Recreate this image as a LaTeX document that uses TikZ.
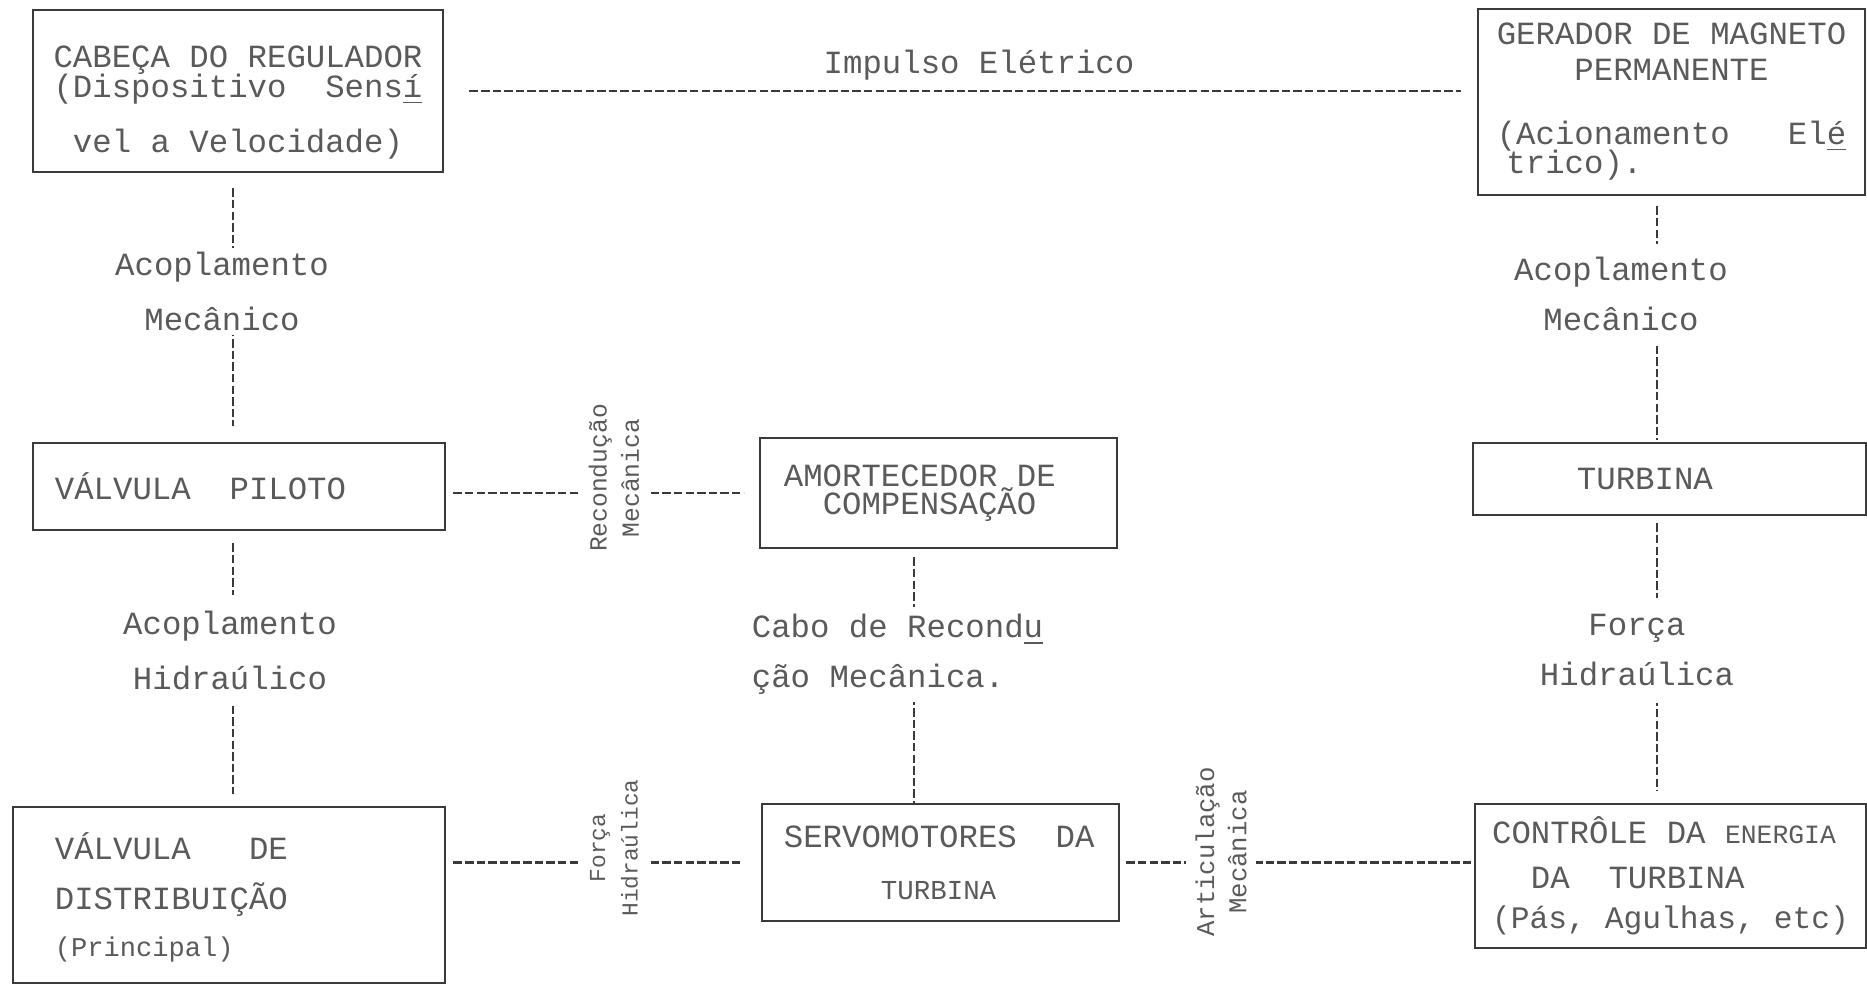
\documentclass[tikz,border=0pt]{standalone}
\usepackage{fontspec}
\setmainfont{Liberation Mono}
\setmonofont{Liberation Mono}
\usetikzlibrary{calc}
\definecolor{typeink}{HTML}{5A5A5A}
\definecolor{frameink}{HTML}{3A3A3A}
\hfuzz=100pt
\lineskiplimit=-100pt
\lineskip=0pt

\begin{document}
\begin{tikzpicture}[
    x=0.01cm, y=-0.01cm,
    font={\fontsize{9.2pt}{8.5pt}\selectfont},
    box/.style={draw=frameink, line width=0.75pt, text=typeink, inner sep=0pt, align=left},
    lbl/.style={fill=white, inner sep=0pt, align=center, text=typeink},
    sidelbl/.style={lbl, rotate=90, font={\fontsize{7.0pt}{9.2pt}\selectfont}},
    link/.style={draw=frameink, line width=0.6pt, dash pattern=on 2.4pt off 0.9pt},
]
    \useasboundingbox (0,0) rectangle (1867,985);

    % columns of the vertical links
    \coordinate (colL) at (233,0);
    \coordinate (colM) at (914,0);
    \coordinate (colR) at (1657,0);

    % =====================================================================
    % Blocks
    % =====================================================================
    \node[box, minimum width=4.10cm, minimum height=1.62cm, align=center] (cabeca) at (238,91)
        {\rule{0pt}{12.7pt}CABEÇA DO REGULADOR\\(Dispositivo~~Sens\underline{í}\\[7.2pt]vel a Velocidade)};
    \node[box, minimum width=3.87cm, minimum height=1.86cm] (gerador) at (1671.5,102)
        {GERADOR DE MAGNETO\\[1.5pt]~~~~PERMANENTE\\[9.7pt]\makebox[3.49cm][l]{(Acionamento~~~El\underline{é}}\\\hspace*{0.3em}trico).};
    \node[box, minimum width=4.12cm, minimum height=0.87cm] (piloto) at (239,486.5)
        {\makebox[3.68cm][l]{VÁLVULA~~PILOTO}};
    \node[box, minimum width=3.57cm, minimum height=1.10cm] (amortecedor) at (938.5,493)
        {\makebox[3.09cm][l]{AMORTECEDOR DE}\\[-0.5pt]~~COMPENSAÇÃO};
    \node[box, minimum width=3.93cm, minimum height=0.72cm] (turbina) at (1669.5,479)
        {\makebox[1.85cm][l]{TURBINA}};
    \node[box, minimum width=4.32cm, minimum height=1.76cm] (distribuicao) at (229,895)
        {\rule{0pt}{9pt}\makebox[3.48cm][l]{VÁLVULA~~~DE}\\[5.7pt]DISTRIBUIÇÃO\\[4.9pt]{\fontsize{7.7pt}{8.5pt}\selectfont(Principal)}};
    \node[box, minimum width=3.57cm, minimum height=1.17cm] (servo) at (940.5,862.5)
        {\makebox[3.13cm][l]{SERVOMOTORES~~DA}\\[6.3pt]~~~~~{\fontsize{7.8pt}{8.5pt}\selectfont TURBINA}};
    \node[box, minimum width=3.91cm, minimum height=1.44cm] (controle) at (1670.5,876)
        {\makebox[3.47cm][l]{CONTRÔLE DA {\fontsize{7.5pt}{8.5pt}\selectfont ENERGIA}}\\[4.3pt]~~DA~~TURBINA\\[2.9pt]{\fontsize{8.9pt}{8.5pt}\selectfont(Pás, Agulhas, etc)}};

    % =====================================================================
    % Links
    % =====================================================================
    \draw[link, shorten <=0.25cm, shorten >=0.16cm] (cabeca.east) -- (cabeca.east -| gerador.west);
    \draw[link, shorten <=0.15cm, shorten >=0.16cm] (cabeca.south -| colL) -- (piloto.north -| colL);
    \draw[link, shorten <=0.12cm, shorten >=0.12cm] (piloto.south -| colL) -- (distribuicao.north -| colL);
    \draw[link, shorten <=0.10cm, shorten >=0.02cm] (gerador.south -| colR) -- (turbina.north -| colR);
    \draw[link, shorten <=0.07cm, shorten >=0.12cm] (turbina.south -| colR) -- (controle.north -| colR);
    \draw[link, shorten <=0.08cm] (amortecedor.south -| colM) -- (servo.north -| colM);
    \draw[link, shorten <=0.07cm, shorten >=0.15cm] (piloto.east |- amortecedor.west) -- (amortecedor.west);
    \draw[link, shorten <=0.07cm, shorten >=0.17cm] (distribuicao.east |- servo.west) -- (servo.west);
    \draw[link, shorten <=0.06cm, shorten >=0.02cm] (servo.east) -- (controle.west |- servo.east);

    % =====================================================================
    % Labels on the links
    % =====================================================================
    \node[text=typeink] (impulso) at (979,65) {Impulso Elétrico};
    \node[lbl, minimum height=0.87cm] (acopA) at (222,291.5) {Acoplamento\\[6.9pt]Mecânico};
    \node[lbl, minimum height=1.11cm] (acopB) at (230,650.5) {Acoplamento\\[6.9pt]Hidraúlico};
    \node[lbl, minimum height=0.99cm] (acopC) at (1621,293.5) {Acoplamento\\[5.7pt]Mecânico};
    \node[lbl, minimum height=1.05cm] (forcaR) at (1637,650.5) {Força\\[5.7pt]Hidraúlica};
    \node[lbl, minimum height=0.95cm, align=left] (cabo) at (897.5,654.5) {Cabo de Recond\underline{u}\\[5.7pt]ção Mecânica.};
    \node[sidelbl, minimum height=0.68cm] (recond) at (614,478) {Recondução\\Mecânica};
    \node[sidelbl, minimum height=0.68cm, font={\fontsize{6.5pt}{9.2pt}\selectfont}] (forcaM) at (614,848) {Força\\Hidraúlica};
    \node[sidelbl, minimum height=0.70cm, font={\fontsize{7.3pt}{9.2pt}\selectfont}] (artic) at (1221,852) {Articulação\\Mecânica};

\end{tikzpicture}
\end{document}
